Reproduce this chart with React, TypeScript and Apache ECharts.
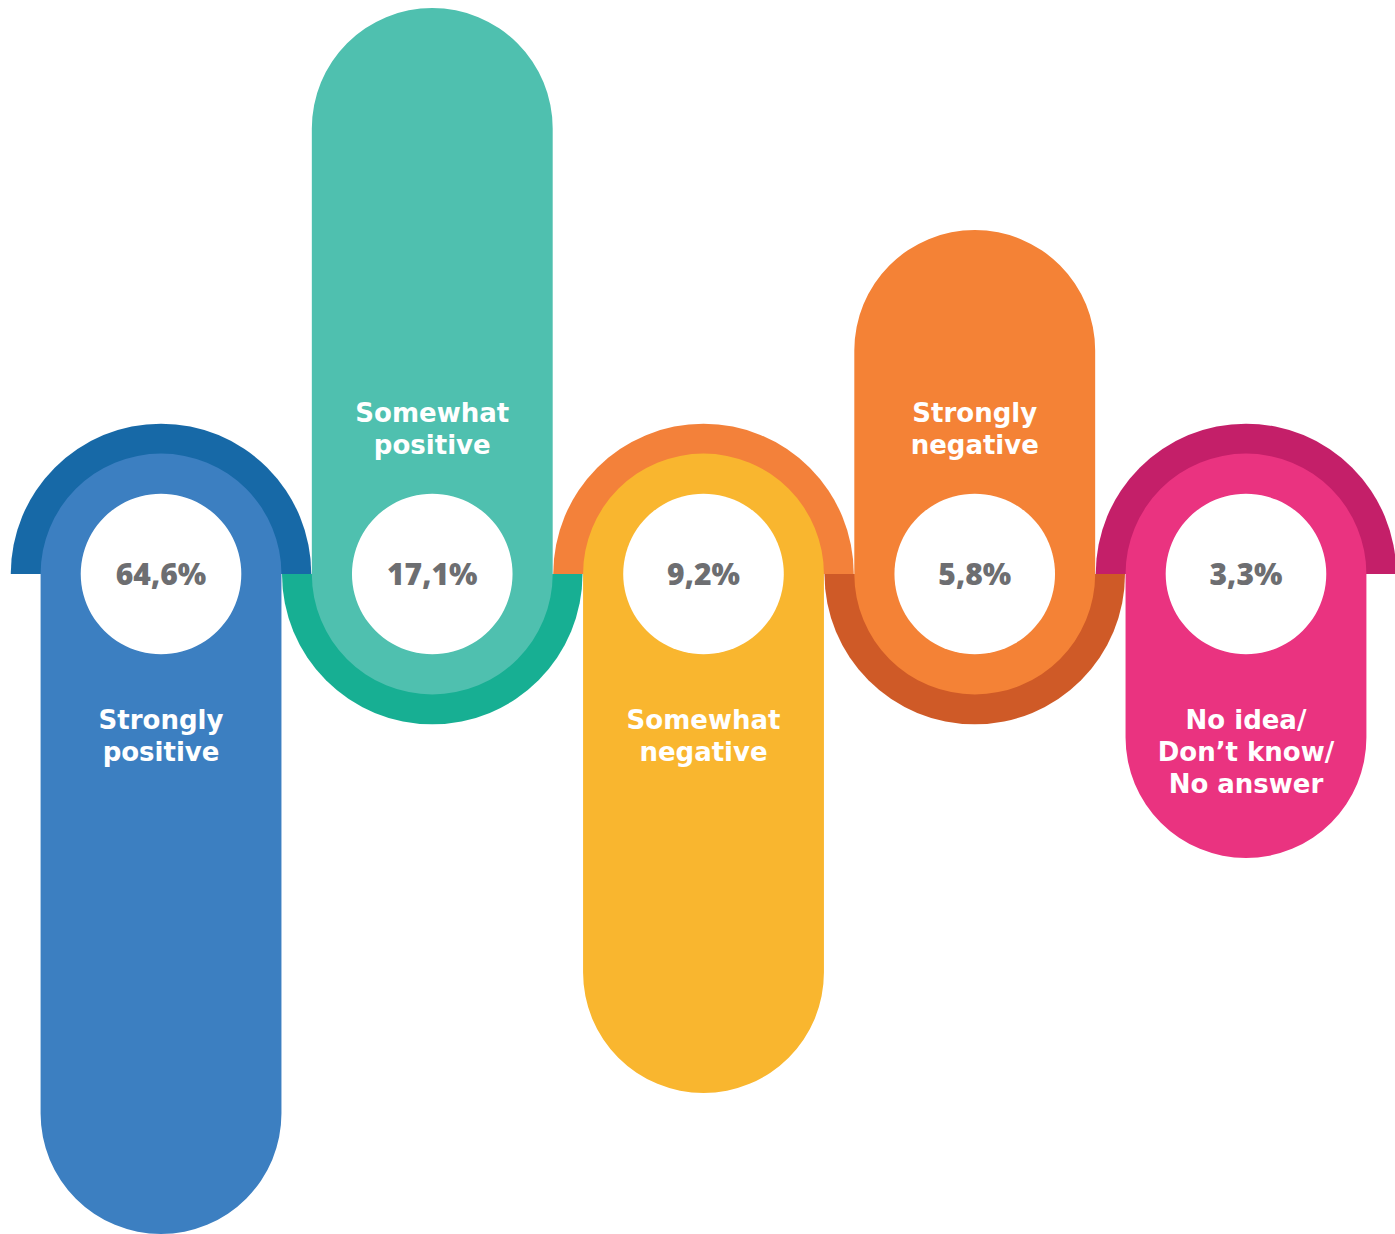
import React, { useEffect, useRef } from "react";
import * as echarts from "echarts";

// Answer categories, in the order drawn from left to right
const categories = [
  "Strongly positive",
  "Somewhat positive",
  "Somewhat negative",
  "Strongly negative",
  "No idea/ Don't know/ No answer",
];
// Category labels as printed (line breaks)
const labelLines = [
  ["Strongly", "positive"],
  ["Somewhat", "positive"],
  ["Somewhat", "negative"],
  ["Strongly", "negative"],
  ["No idea/", "Don’t know/", "No answer"],
];
// Shares of respondents (%)
const shares = [64.6, 17.1, 9.2, 5.8, 3.3];
const shareLabels = ["64,6%", "17,1%", "9,2%", "5,8%", "3,3%"];
// Reach of each pill from the centre line (axis units, + up / - down)
const pillReach = [-66.0, 56.6, -51.9, 34.4, -28.4];

const bodyColors = ["#3C7FC1", "#4FC0AF", "#F9B62F", "#F48236", "#EA3380"];
const ringColors = ["#1769A7", "#17AF93", "#F3813A", "#CF5A27", "#C41F69"];

export default function App() {
  const ref = useRef<HTMLDivElement>(null);

  useEffect(() => {
    document.body.style.margin = "0";
    const chart = echarts.init(ref.current!, null, { renderer: "svg" });

    const renderItem = (params: any, api: any) => {
      const i = api.value(0);
      const reach = api.value(1);
      const c = api.coord([i, 0]);
      const tip = api.coord([i, reach]);
      const band = api.size([1, 0])[0];
      const rBody = band * 0.444;
      const rRing = band * 0.554;
      const rHole = band * 0.296;
      const down = reach < 0;
      const cx = c[0];
      const cy = c[1];

      const children: any[] = [];
      // darker half disc on the opposite side of the pill
      children.push({
        type: "sector",
        shape: {
          cx,
          cy,
          r0: 0,
          r: rRing,
          startAngle: down ? Math.PI : 0,
          endAngle: down ? Math.PI * 2 : Math.PI,
          clockwise: true,
        },
        style: { fill: ringColors[i] },
      });
      // pill body
      const y0 = down ? cy - rBody : tip[1];
      const y1 = down ? tip[1] : cy + rBody;
      children.push({
        type: "rect",
        shape: { x: cx - rBody, y: y0, width: rBody * 2, height: y1 - y0, r: rBody },
        style: { fill: bodyColors[i] },
      });
      // white hole
      children.push({
        type: "circle",
        shape: { cx, cy, r: rHole },
        style: { fill: "#FFFFFF" },
      });
      // percentage
      children.push({
        type: "text",
        x: cx,
        y: cy - 1,
        style: {
          text: shareLabels[i],
          fill: "#6D6E71",
          fontFamily: "'Open Sans', sans-serif",
          fontWeight: 800,
          fontSize: 30,
          align: "center",
          verticalAlign: "middle",
        },
      });
      // category label, one text per line
      const lines = labelLines[i];
      const step = 32;
      lines.forEach((line, k) => {
        const ly = down
          ? cy + 146 + k * step
          : cy - 129 - (lines.length - 1 - k) * step;
        children.push({
          type: "text",
          x: cx,
          y: ly,
          style: {
            text: line,
            fill: "#FFFFFF",
            fontFamily: "'DejaVu Sans', sans-serif",
            fontWeight: "bold",
            fontSize: 26,
            align: "center",
            verticalAlign: "middle",
          },
        });
      });
      return { type: "group", children };
    };

    chart.setOption({
      animation: false,
      grid: { left: 25.4, right: 13.4, top: 0, bottom: 0 },
      xAxis: {
        type: "category",
        data: categories,
        show: false,
      },
      yAxis: {
        type: "value",
        min: -66,
        max: 57.4,
        show: false,
      },
      series: [
        {
          type: "custom",
          renderItem,
          data: categories.map((_, i) => [i, pillReach[i], shares[i]]),
          encode: { x: 0, y: 1 },
          clip: false,
        },
      ],
    });
    return () => chart.dispose();
  }, []);

  return <div ref={ref} style={{ width: 1395, height: 1234 }} />;
}
